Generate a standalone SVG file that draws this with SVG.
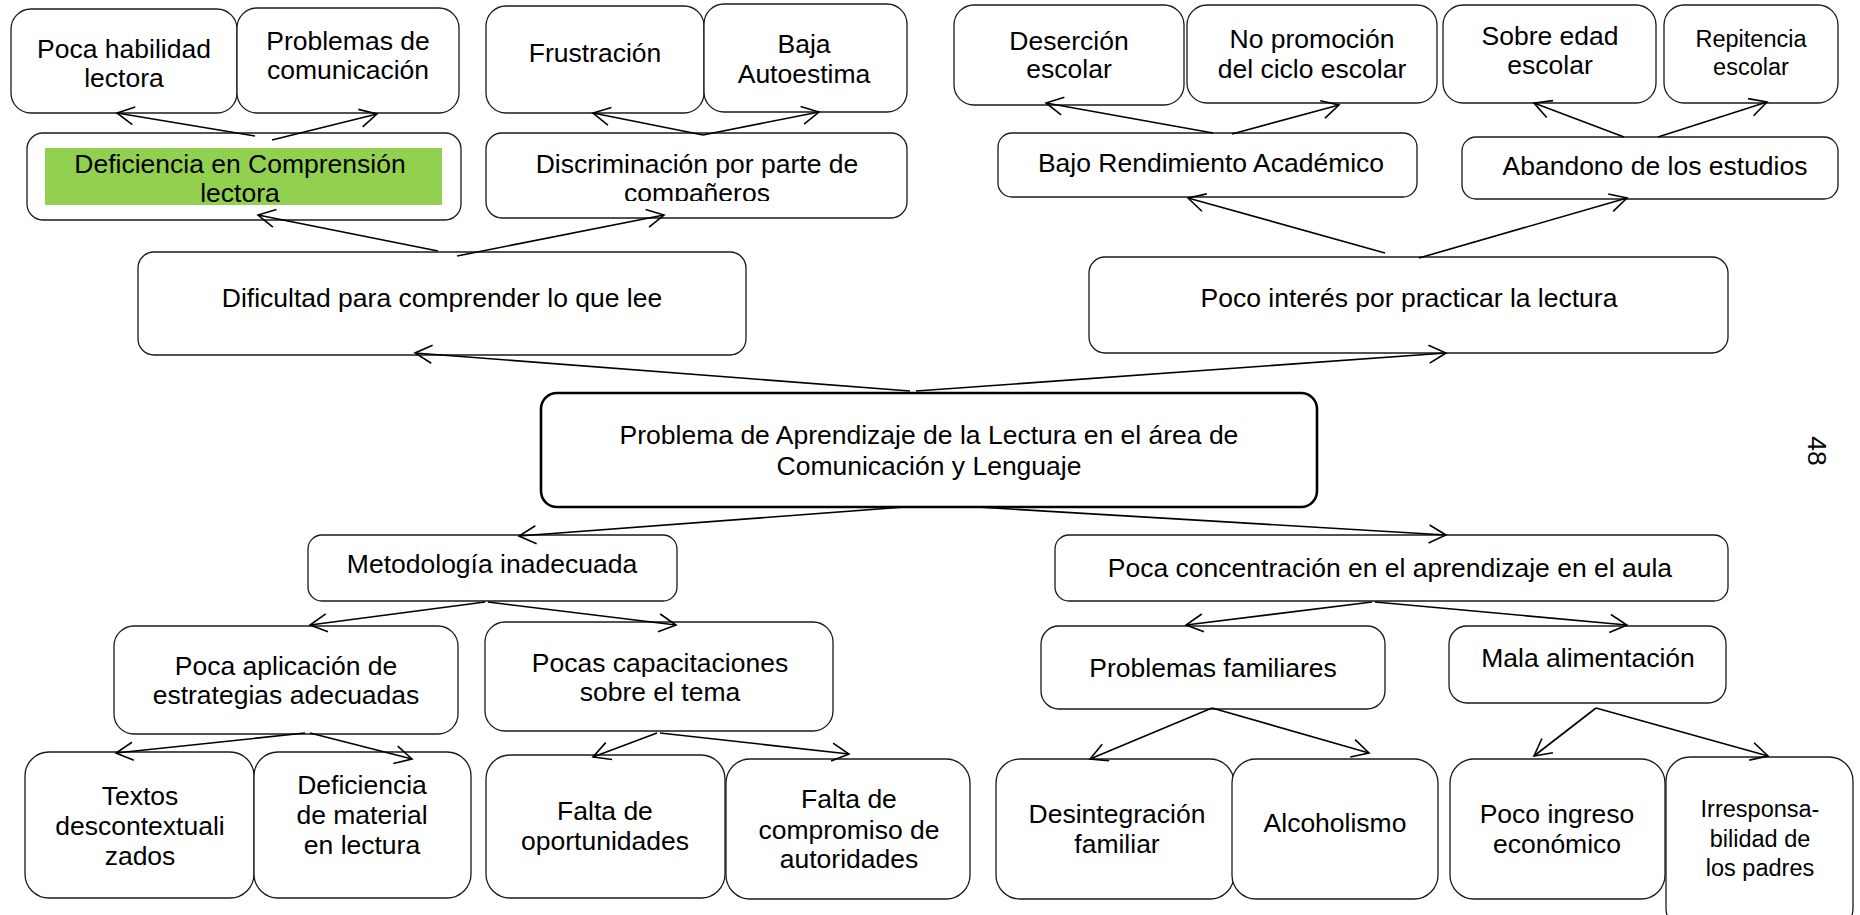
<svg xmlns="http://www.w3.org/2000/svg" width="1860" height="915" viewBox="0 0 1860 915">
<style>
.box{fill:#fff;stroke:#1a1a1a;stroke-width:1.3}
.main{fill:#fff;stroke:#000;stroke-width:2.6}
text{font-family:"Liberation Sans",Arial,sans-serif;font-size:26.5px;fill:#000;text-anchor:middle}
.sm{font-size:23.5px}
.con line{stroke:#000;stroke-width:1.6;fill:none;marker-end:url(#arr)}
</style>
<defs>
<marker id="arr" markerUnits="userSpaceOnUse" viewBox="-20 -12 24 24" markerWidth="24" markerHeight="24" refX="0" refY="0" orient="auto">
<path d="M-17,-9 L0,0 L-17,9" fill="none" stroke="#000" stroke-width="1.6"/>
</marker>
<clipPath id="clipDisc"><rect x="486" y="133" width="421" height="68"/></clipPath>
</defs>
<rect width="1860" height="915" fill="#fff"/>

<g id="n-poca-habilidad"><rect class="box" x="11" y="9" width="226" height="104" rx="20"/><text x="124" y="58">Poca habilidad</text><text x="124" y="87">lectora</text></g>
<g id="n-problemas-comunicacion"><rect class="box" x="237" y="8" width="222" height="105" rx="20"/><text x="348" y="50">Problemas de</text><text x="348" y="79">comunicación</text></g>
<g id="n-frustracion"><rect class="box" x="486" y="6" width="218" height="107" rx="20"/><text x="595" y="62">Frustración</text></g>
<g id="n-baja-autoestima"><rect class="box" x="704" y="4" width="203" height="108" rx="20"/><text x="804" y="53">Baja</text><text x="804" y="83">Autoestima</text></g>
<g id="n-deficiencia-comprension"><rect class="box" x="27" y="133" width="434" height="87" rx="16"/><rect x="45" y="148" width="397" height="57" fill="#92D050"/><text x="240" y="173">Deficiencia en Comprensión</text><text x="240" y="202">lectora</text></g>
<g id="n-discriminacion"><rect class="box" x="486" y="133" width="421" height="85" rx="16"/><g clip-path="url(#clipDisc)"><text x="697" y="173">Discriminación por parte de</text><text x="697" y="202">compañeros</text></g></g>

<g id="n-desercion"><rect class="box" x="954" y="5" width="230" height="100" rx="20"/><text x="1069" y="50">Deserción</text><text x="1069" y="78">escolar</text></g>
<g id="n-no-promocion"><rect class="box" x="1187" y="5" width="250" height="98" rx="20"/><text x="1312" y="48">No promoción</text><text x="1312" y="78">del ciclo escolar</text></g>
<g id="n-sobre-edad"><rect class="box" x="1443" y="5" width="213" height="98" rx="20"/><text x="1550" y="45">Sobre edad</text><text x="1550" y="74">escolar</text></g>
<g id="n-repitencia"><rect class="box" x="1664" y="5" width="174" height="98" rx="20"/><text class="sm" x="1751" y="47">Repitencia</text><text class="sm" x="1751" y="75">escolar</text></g>
<g id="n-bajo-rendimiento"><rect class="box" x="998" y="133" width="419" height="64" rx="14"/><text x="1211" y="172">Bajo Rendimiento Académico</text></g>
<g id="n-abandono"><rect class="box" x="1462" y="137" width="376" height="62" rx="14"/><text x="1655" y="175">Abandono de los estudios</text></g>

<g id="n-dificultad"><rect class="box" x="138" y="252" width="608" height="103" rx="16"/><text x="442" y="307">Dificultad para comprender lo que lee</text></g>
<g id="n-poco-interes"><rect class="box" x="1089" y="257" width="639" height="96" rx="16"/><text x="1409" y="307">Poco interés por practicar la lectura</text></g>

<g id="n-central"><rect class="main" x="541" y="393" width="776" height="114" rx="16"/><text x="929" y="444">Problema de Aprendizaje de la Lectura en el área de</text><text x="929" y="475">Comunicación y Lenguaje</text></g>

<g id="n-metodologia"><rect class="box" x="308" y="535" width="369" height="66" rx="14"/><text x="492" y="573">Metodología inadecuada</text></g>
<g id="n-poca-concentracion"><rect class="box" x="1055" y="535" width="673" height="66" rx="14"/><text x="1390" y="577">Poca concentración en el aprendizaje  en el aula</text></g>

<g id="n-poca-aplicacion"><rect class="box" x="114" y="626" width="344" height="108" rx="20"/><text x="286" y="675">Poca aplicación de</text><text x="286" y="704">estrategias adecuadas</text></g>
<g id="n-pocas-capacitaciones"><rect class="box" x="485" y="622" width="348" height="109" rx="20"/><text x="660" y="672">Pocas capacitaciones</text><text x="660" y="701">sobre el tema</text></g>
<g id="n-problemas-familiares"><rect class="box" x="1041" y="626" width="344" height="83" rx="18"/><text x="1213" y="677">Problemas familiares</text></g>
<g id="n-mala-alimentacion"><rect class="box" x="1449" y="626" width="277" height="77" rx="18"/><text x="1588" y="667">Mala alimentación</text></g>

<g id="n-textos"><rect class="box" x="25" y="752" width="229" height="146" rx="24"/><text x="140" y="805">Textos</text><text x="140" y="835">descontextuali</text><text x="140" y="865">zados</text></g>
<g id="n-deficiencia-material"><rect class="box" x="254" y="752" width="217" height="146" rx="24"/><text x="362" y="794">Deficiencia</text><text x="362" y="824">de material</text><text x="362" y="854">en lectura</text></g>
<g id="n-falta-oportunidades"><rect class="box" x="486" y="755" width="239" height="143" rx="24"/><text x="605" y="820">Falta de</text><text x="605" y="850">oportunidades</text></g>
<g id="n-falta-compromiso"><rect class="box" x="726" y="759" width="244" height="140" rx="24"/><text x="849" y="808">Falta de</text><text x="849" y="839">compromiso de</text><text x="849" y="868">autoridades</text></g>
<g id="n-desintegracion"><rect class="box" x="996" y="759" width="238" height="140" rx="24"/><text x="1117" y="823">Desintegración</text><text x="1117" y="853">familiar</text></g>
<g id="n-alcoholismo"><rect class="box" x="1232" y="759" width="206" height="140" rx="24"/><text x="1335" y="832">Alcoholismo</text></g>
<g id="n-poco-ingreso"><rect class="box" x="1450" y="759" width="215" height="140" rx="24"/><text x="1557" y="823">Poco ingreso</text><text x="1557" y="853">económico</text></g>
<g id="n-irresponsabilidad"><rect class="box" x="1666" y="757" width="187" height="175" rx="24"/><text class="sm" x="1760" y="817">Irresponsa-</text><text class="sm" x="1760" y="847">bilidad de</text><text class="sm" x="1760" y="876">los padres</text></g>

<g id="connectors" class="con">
<line x1="910" y1="391" x2="415" y2="353"/>
<line x1="916" y1="391" x2="1446" y2="353"/>
<line x1="905" y1="507" x2="519" y2="536"/>
<line x1="977" y1="507" x2="1446" y2="535"/>
<line x1="438" y1="251" x2="258" y2="215"/>
<line x1="457" y1="256" x2="664" y2="215"/>
<line x1="255" y1="136" x2="117" y2="113"/>
<line x1="272" y1="140" x2="377" y2="114"/>
<line x1="703" y1="135" x2="593" y2="113"/>
<line x1="703" y1="135" x2="819" y2="112"/>
<line x1="1385" y1="253" x2="1188" y2="198"/>
<line x1="1419" y1="258" x2="1627" y2="198"/>
<line x1="1213" y1="133" x2="1046" y2="103"/>
<line x1="1232" y1="134" x2="1339" y2="105"/>
<line x1="1624" y1="137" x2="1534" y2="103"/>
<line x1="1658" y1="137" x2="1767" y2="102"/>
<line x1="485" y1="602" x2="310" y2="625"/>
<line x1="488" y1="602" x2="676" y2="625"/>
<line x1="305" y1="733" x2="116" y2="753"/>
<line x1="310" y1="733" x2="412" y2="759"/>
<line x1="657" y1="733" x2="593" y2="757"/>
<line x1="660" y1="733" x2="849" y2="754"/>
<line x1="1372" y1="602" x2="1186" y2="625"/>
<line x1="1375" y1="602" x2="1627" y2="625"/>
<line x1="1212" y1="708" x2="1090" y2="759"/>
<line x1="1212" y1="708" x2="1369" y2="753"/>
<line x1="1596" y1="708" x2="1534" y2="756"/>
<line x1="1596" y1="708" x2="1768" y2="756"/>
</g>

<text x="0" y="0" transform="translate(1808,451) rotate(90)">48</text>
</svg>
